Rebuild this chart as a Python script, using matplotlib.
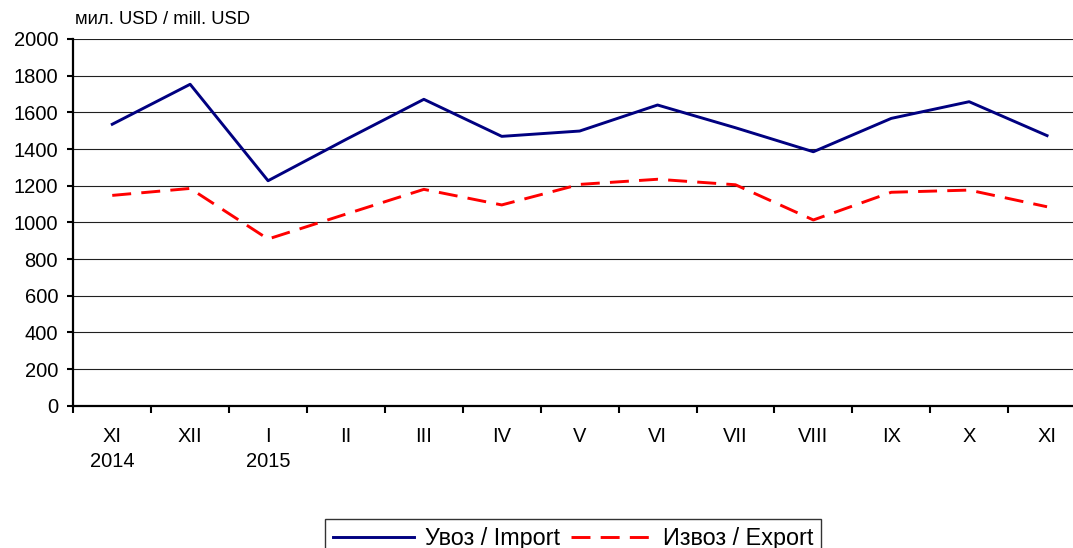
import matplotlib
matplotlib.use("Agg")
import matplotlib.pyplot as plt
import numpy as np

months = ["XI\n2014", "XII", "I\n2015", "II", "III", "IV", "V", "VI", "VII", "VIII", "IX", "X", "XI"]
import_vals = [1535, 1753, 1227, 1452, 1671, 1469, 1498, 1640, 1516, 1385, 1567, 1658, 1473]
export_vals = [1147, 1185, 909, 1045, 1180, 1095, 1207, 1235, 1205, 1013, 1164, 1176, 1085]
y_ticks = list(range(0, 2001, 200))
ylabel = "мил. USD / mill. USD"
series_names = ["Увоз / Import", "Извоз / Export"]

plt.rcParams['font.family'] = ['Liberation Sans', 'DejaVu Sans']

W, H = 1073, 548
fig = plt.figure(figsize=(W / 100, H / 100), dpi=100)
left = 73.3 / W
width = 13 * 77.9 / W
bottom = 1 - 405.7 / H
top = 1 - 39.0 / H
ax = fig.add_axes([left, bottom, width, top - bottom])

n = len(months)
x = np.arange(n) + 0.5
ax.plot(x, import_vals, color="#000080", lw=2.1, label=series_names[0])
ax.plot(x, export_vals, color="#FF0000", lw=2.1, dashes=(6.5, 3.5), label=series_names[1])

ax.set_xlim(0, n)
ax.set_ylim(0, 2000)
ax.set_yticks(y_ticks)
ax.yaxis.grid(True, color="#202020", lw=0.8)
ax.set_axisbelow(True)

ax.set_xticks(np.arange(n + 1))
ax.set_xticklabels([])
ax.set_xticks(x, minor=True)
ax.set_xticklabels(months, minor=True, fontsize=14.5, linespacing=1.45)
ax.tick_params(axis="x", which="major", length=5, width=1.5, direction="out")
ax.tick_params(axis="x", which="minor", length=0, pad=15)
ax.tick_params(axis="y", length=4, width=1.5, direction="out", pad=7, labelsize=14.5)

for s in ["top", "right"]:
    ax.spines[s].set_visible(False)
for s in ["left", "bottom"]:
    ax.spines[s].set_linewidth(1.6)

fig.text(75 / W, 1 - 20 / H, ylabel, fontsize=13.3, ha="left", va="center")

leg = fig.legend(loc="upper center", bbox_to_anchor=(573.3 / W, 1 - 519 / H), ncol=2,
                 fontsize=16.8, frameon=True, fancybox=False, handlelength=3.45,
                 handletextpad=0.48, columnspacing=0.5, borderpad=0.33, borderaxespad=0)
leg.get_frame().set_edgecolor("black")
leg.get_frame().set_linewidth(1.0)

fig.savefig("out.png", dpi=100)
